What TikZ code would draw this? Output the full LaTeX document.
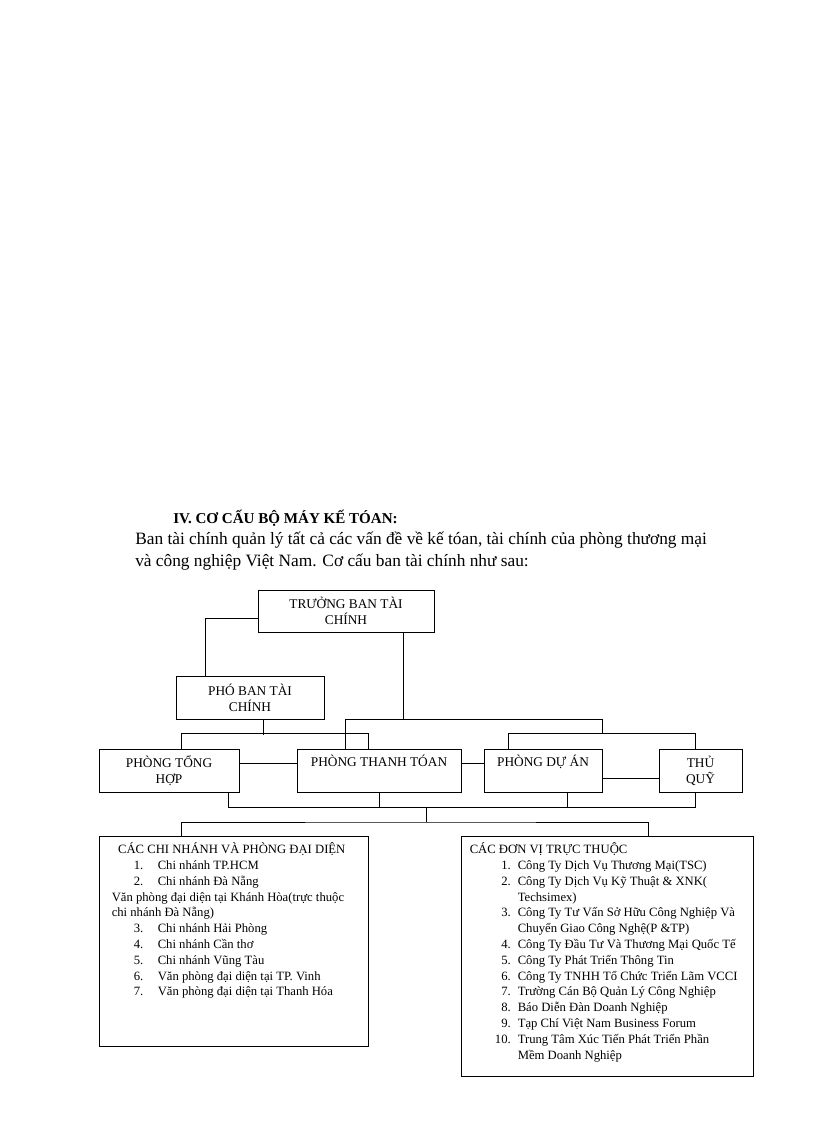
\documentclass[tikz,border=0pt]{standalone}
\usepackage{fontspec}
\setmainfont{Liberation Serif}
\usetikzlibrary{calc}
\tikzset{
  dept/.style    = {shape=rectangle, draw, align=center, inner sep=0pt,
                    line width=0.75pt, font=\fontsize{10}{12}\selectfont},
  toptext/.style = {anchor=base, yshift=-13.5pt, inner sep=0pt,
                    font=\fontsize{10}{12}\selectfont},
  group/.style   = {shape=rectangle, draw, inner sep=0pt, line width=0.75pt},
  items/.style   = {align=left, inner sep=0pt, anchor=north west,
                    font=\fontsize{9.5}{11.85}\selectfont},
  wire/.style    = {draw, line width=0.75pt}
}
\newcommand{\cnitem}[2]{\hspace*{16.5pt}\makebox[18pt][l]{#1}#2}
\newcommand{\dvitem}[2]{\makebox[30.75pt][r]{#1}\hspace{5.25pt}#2}
\newcommand{\dvmore}[1]{\hspace*{36pt}#1}

\begin{document}
\begin{tikzpicture}[x=0.75pt, y=-0.75pt]
  \useasboundingbox (0,0) rectangle (816,1123);

  \node [anchor=base west, inner sep=0pt, font=\bfseries\fontsize{11.3}{13}\selectfont]
    (title) at (173,523) {IV. CƠ CẤU BỘ MÁY KẾ TÓAN:};
  \node [anchor=base west, inner sep=0pt, align=left, font=\fontsize{13}{16.5}\selectfont]
    (intro) at (135,566) {Ban tài chính quản lý tất cả các vấn đề về kế tóan, tài chính của phòng thương mại\\
                          và công nghiệp Việt Nam. Cơ cấu ban tài chính như sau:};

  \node [dept, minimum width=132pt, minimum height=31.5pt] (tb) at (346,611) {TRƯỞNG BAN TÀI\\CHÍNH};
  \node [dept, minimum width=111pt, minimum height=32.25pt] (pb) at (250,697.5) {PHÓ BAN TÀI\\CHÍNH};
  \node [dept, minimum width=105pt, minimum height=32.25pt] (th) at (169,770.5) {PHÒNG TỔNG\\HỢP};
  \node [dept, minimum width=123pt, minimum height=32.25pt,
         label={[toptext]north:PHÒNG THANH TÓAN}] (tt) at (379,770.5) {};
  \node [dept, minimum width=88.5pt, minimum height=32.25pt,
         label={[toptext]north:PHÒNG DỰ ÁN}] (da) at (543,770.5) {};
  \node [dept, minimum width=62.25pt, minimum height=32.25pt] (tq) at (700.5,770.5) {THỦ\\QUỸ};

  \node [group, minimum width=201.75pt, minimum height=157.5pt] (cn) at (233.5,941) {};
  \node [group, minimum width=219pt, minimum height=180pt] (dv) at (607,956) {};

  \node [items] (cn-list) at ($(cn.north west)+(13,7)$) {
    \makebox[180pt][c]{CÁC CHI NHÁNH VÀ PHÒNG ĐẠI DIỆN}\\
    \cnitem{1.}{Chi nhánh TP.HCM}\\
    \cnitem{2.}{Chi nhánh Đà Nẵng}\\
    Văn phòng đại diện tại Khánh Hòa(trực thuộc\\
    chi nhánh Đà Nẵng)\\
    \cnitem{3.}{Chi nhánh Hải Phòng}\\
    \cnitem{4.}{Chi nhánh Cần thơ}\\
    \cnitem{5.}{Chi nhánh Vũng Tàu}\\
    \cnitem{6.}{Văn phòng đại diện tại TP. Vinh}\\
    \cnitem{7.}{Văn phòng đại diện tại Thanh Hóa}};
  \node [items] (dv-list) at ($(dv.north west)+(9,7)$) {
    CÁC ĐƠN VỊ TRỰC THUỘC\\
    \dvitem{1.}{Công Ty Dịch Vụ Thương Mại(TSC)}\\
    \dvitem{2.}{Công Ty Dịch Vụ Kỹ Thuật \& XNK(}\\
    \dvmore{Techsimex)}\\
    \dvitem{3.}{Công Ty Tư Vấn Sở Hữu Công Nghiệp Và}\\
    \dvmore{Chuyển Giao Công Nghệ(P \&TP)}\\
    \dvitem{4.}{Công Ty Đầu Tư Và Thương Mại Quốc Tế}\\
    \dvitem{5.}{Công Ty Phát Triển Thông Tin}\\
    \dvitem{6.}{Công Ty TNHH Tổ Chức Triển Lãm VCCI}\\
    \dvitem{7.}{Trường Cán Bộ Quản Lý Công Nghiệp}\\
    \dvitem{8.}{Báo Diễn Đàn Doanh Nghiệp}\\
    \dvitem{9.}{Tạp Chí Việt Nam Business Forum}\\
    \dvitem{10.}{Trung Tâm Xúc Tiến Phát Triển Phần}\\
    \dvmore{Mềm Doanh Nghiệp}};

  \draw [wire] ($(tb.west)+(0,7)$) -| ($(pb.north)+(-45,0)$);
  \draw [wire] ($(tb.south)+(57,0)$) -- ++(0,87) coordinate (jt);
  \draw [wire] ($(tt.north)+(-34,0)$) |- (jt) -| ($(da.north)+(59,-15)$);
  \draw [wire] ($(da.north)+(-35,0)$) |- ($(tq.north)+(-5.5,-15)$) -- ($(tq.north)+(-5.5,0)$);
  \draw [wire] ($(pb.south)+(13,0)$) -- ++(0,15);
  \draw [wire] ($(th.north)+(12,0)$) |- ($(tt.north)+(-11,-15)$) -- ($(tt.north)+(-11,0)$);
  \draw [wire] ($(th.east)+(0,-7.5)$) -- ($(tt.west)+(0,-7.5)$);
  \draw [wire] ($(tt.east)+(0,-7.5)$) -- ($(da.west)+(0,-7.5)$);
  \draw [wire] ($(da.east)+(0,7.5)$) -- ($(tq.west)+(0,7.5)$);

  \coordinate (bus) at (426,807);
  \draw [wire] ($(th.south)+(59,0)$) |- ($(tq.south)+(-5.5,15)$) -- ($(tq.south)+(-5.5,0)$);
  \draw [wire] (tt.south) -- (tt.south |- bus);
  \draw [wire] ($(da.south)+(24,0)$) -- ++(0,15);
  \draw [wire] (bus) -- ++(0,15) coordinate (split);
  \draw [wire] ($(cn.north)+(-52.5,0)$) |- (split) -| ($(dv.north)+(41,0)$);
\end{tikzpicture}
\end{document}
